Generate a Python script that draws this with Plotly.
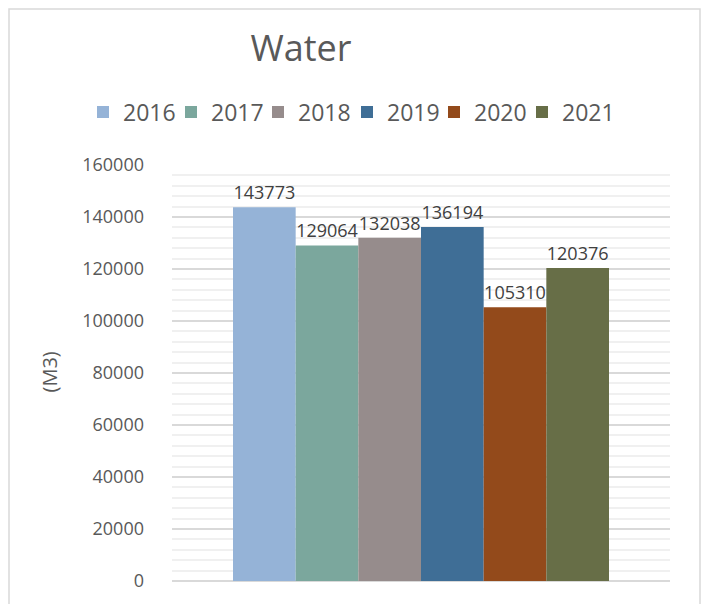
import plotly.graph_objects as go

# water consumption per year (M3)
years = ["2016", "2017", "2018", "2019", "2020", "2021"]
water_m3 = [143773, 129064, 132038, 136194, 105310, 120376]
bar_colors = ["#95B3D7", "#7BA79D", "#968C8C", "#3F6E96", "#934A1B", "#676E47"]
category = [""]

FONT = "Open Sans"
text_grey = "#595959"

# page body has an 8px margin, so the figure is shifted up/left by 8
OFF = 8
L, T, PW, PH = 172 - OFF, 165 - OFF, 498, 416

# legend entries laid out one by one (single plotly legend wraps at plot width)
legend_ids = ["legend", "legend2", "legend3", "legend4", "legend5", "legend6"]
legend_text_x = [123, 211, 298, 387, 474, 562]

fig = go.Figure()
for year, val, col, lg in zip(years, water_m3, bar_colors, legend_ids):
    fig.add_trace(go.Bar(
        x=category,
        y=[val],
        name=year,
        legend=lg,
        marker=dict(color=col, line=dict(width=0)),
        text=[str(val)],
        textposition="outside",
        textfont=dict(family=FONT, size=18, color="#404040"),
        constraintext="none",
        cliponaxis=False,
    ))

legends = {}
for lg, tx in zip(legend_ids, legend_text_x):
    legends[lg] = dict(orientation="h", xref="container", yref="container",
                       x=(tx - OFF - 40) / 711, xanchor="left",
                       y=1 - (112 - OFF) / 604, yanchor="middle",
                       font=dict(family=FONT, size=23, color=text_grey),
                       itemwidth=30, bgcolor="rgba(0,0,0,0)", borderwidth=0)

fig.update_layout(
    width=711,
    height=604,
    margin=dict(l=L, r=711 - L - PW, t=T, b=604 - T - PH, autoexpand=False),
    paper_bgcolor="white",
    plot_bgcolor="white",
    barmode="group",
    bargap=0.245,
    bargroupgap=0,
    font=dict(family=FONT, color=text_grey),
    title=dict(text="Water", x=(301 - OFF) / 711, xanchor="center",
               y=1 - (48 - OFF) / 604, yanchor="middle",
               font=dict(family=FONT, size=36, color=text_grey)),
    showlegend=True,
    **legends,
    xaxis=dict(showticklabels=False, showgrid=False, zeroline=False, showline=False, ticks=""),
    yaxis=dict(
        range=[0, 160000],
        dtick=20000,
        tickformat="d",
        showgrid=True,
        gridcolor="#D9D9D9",
        gridwidth=1.5,
        minor=dict(dtick=4000, showgrid=True, gridcolor="#F0F0F0", gridwidth=1.5),
        zeroline=True,
        zerolinecolor="#D9D9D9",
        zerolinewidth=1.5,
        showline=False,
        ticks="",
        ticklabelstandoff=27,
        tickfont=dict(family=FONT, size=18, color=text_grey),
        automargin=False,
    ),
    annotations=[dict(text="(M3)", textangle=-90, showarrow=False,
                      xref="paper", yref="paper",
                      x=(48.5 - OFF - L) / PW, y=(T + PH - (372 - OFF)) / PH,
                      xanchor="center", yanchor="middle",
                      font=dict(family=FONT, size=20, color=text_grey))],
    shapes=[dict(type="rect", xref="paper", yref="paper",
                 x0=(1 - L) / PW, x1=(700 - OFF - L) / PW,
                 y0=-(604 - T - PH + 20) / PH, y1=(T + PH - 1) / PH,
                 line=dict(color="#D9D9D9", width=1.5), fillcolor="rgba(0,0,0,0)",
                 layer="below")],
)

fig.write_html("out.html")
